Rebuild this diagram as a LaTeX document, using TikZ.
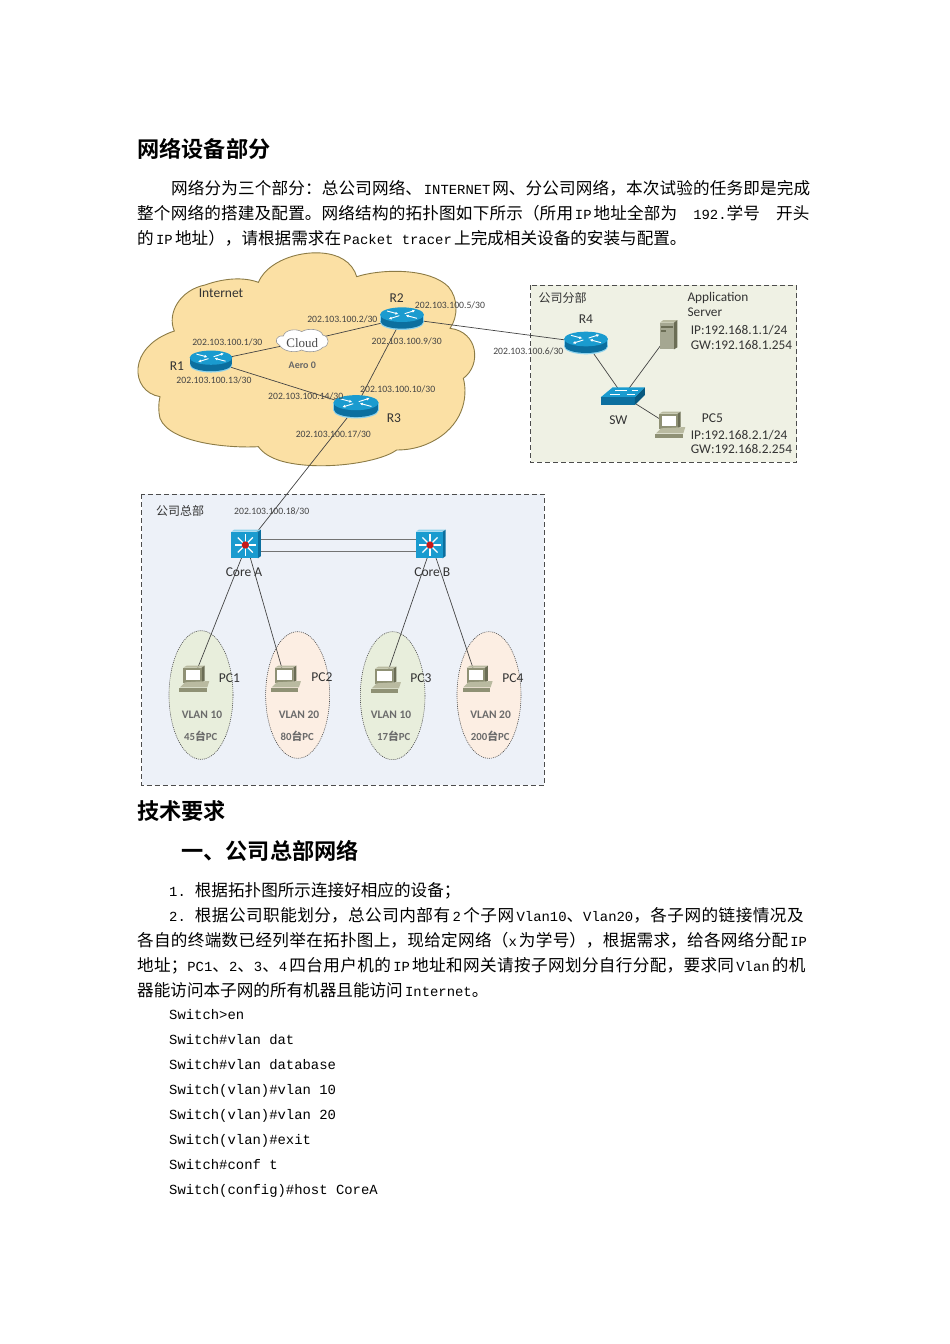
\documentclass[tikz,border=0pt]{standalone}
\usepackage{fontspec}
\usetikzlibrary{arrows.meta}
\setmainfont{Carlito}
\newfontfamily\cjk{Noto Sans CJK SC}
\newfontfamily\cjkb{Noto Sans CJK SC Bold}
\newfontfamily\lat{Liberation Mono}
\newfontfamily\serifl{Liberation Serif}
\newcommand\fs[1]{\fontsize{#1}{#1}\selectfont}
\newcommand\C[1]{{\cjk\fs{16.6}\relax #1}}
\newcommand\G{\hskip 1.5pt plus 2pt\relax}
\newcommand\J[1]{\parfillskip=0pt\tolerance=10000\hbadness=10000\XeTeXlinebreaklocale "zh"\XeTeXlinebreakskip=0pt plus 1pt\relax\lat\fontsize{13.9}{16}\selectfont #1\par}
\newcommand\Nat[1]{\lat\fontsize{13.9}{16}\selectfont #1}
\definecolor{cloudfill}{HTML}{FBE0A4}
\definecolor{cloudline}{HTML}{8C7B45}
\definecolor{hqfill}{HTML}{EDF1F8}
\definecolor{brfill}{HTML}{EFF1E4}
\definecolor{vgreen}{HTML}{E8EEDC}
\definecolor{vorange}{HTML}{FCEEE3}
\definecolor{icblue}{HTML}{1A9BCF}
\definecolor{icdark}{HTML}{0C6F9F}
\definecolor{icedge}{HTML}{8ED2EC}
\definecolor{lab}{HTML}{444444}
\definecolor{pclight}{HTML}{B9BAA0}
\definecolor{pcmid}{HTML}{8F9175}
\definecolor{pcdark}{HTML}{6B6D55}
\tikzset{
 hub/.style={circle,inner sep=0pt,minimum size=14pt},
 link/.style={draw=lab,line width=.7pt},
 dbl/.style={draw=black!55,line width=1pt},
 dashbox/.style={draw=black!70,line width=.9pt,dash pattern=on 5pt off 3pt},
 vlan/.style={draw=black!70,line width=.6pt,dash pattern=on 1pt off 1pt},
 ip/.style={inner sep=0pt,text=lab,font=\fs{9.7}},
 lname/.style={inner sep=0pt,text=black!80,font=\fs{13.5}},
 lleft/.style={inner sep=0pt,text=black!80,font=\fs{13.3},anchor=west},
 vl/.style={inner sep=0pt,text=black!58,font=\fs{11.5}\bfseries},
 vn/.style={inner sep=0pt,text=black!58,font=\fs{10.8}\bfseries},
 bodytext/.style={anchor=base west,inner sep=0pt},
 headtext/.style={anchor=base west,inner sep=0pt,font=\cjkb\fs{22.2}},
 router/.pic={
  \fill[icedge] (-66,0) rectangle (66,23);
  \fill[icedge] (0,23) ellipse [x radius=66,y radius=23];
  \fill[icdark] (-64,0) rectangle (64,21);
  \fill[icdark] (0,21) ellipse [x radius=64,y radius=21];
  \fill[icblue] (0,0) ellipse [x radius=66,y radius=22];
  \draw[white,line width=.9pt,-{Latex[length=3pt,width=3pt]}] (-45,-11) -- (-11,-2);
  \draw[white,line width=.9pt,-{Latex[length=3pt,width=3pt]}] (45,11) -- (11,2);
  \draw[white,line width=.9pt,-{Latex[length=3pt,width=3pt]}] (-8,3) -- (-40,13);
  \draw[white,line width=.9pt,-{Latex[length=3pt,width=3pt]}] (8,-3) -- (40,-13);
 },
 coresw/.pic={
  \fill[icedge] (-42,-40) -- (-34,-46) -- (47,-46) -- (38,-40) -- cycle;
  \fill[icdark] (38,-40) -- (47,-46) -- (47,33) -- (38,40) -- cycle;
  \fill[icblue] (-42,-40) rectangle (38,40);
  \foreach \a in {0,45,...,315}
   \draw[white,line width=1.2pt] (0,0) -- (\a:32);
  \fill[red!75!black!90!white] (0,0) circle (11);
 },
 wgsw/.pic={
  \fill[icblue] (-68,4) -- (-32,-26) -- (65,-26) -- (35,4) -- cycle;
  \fill[icdark] (-68,4) rectangle (35,27);
  \fill[icdark!80!black] (35,4) -- (65,-26) -- (65,-3) -- (35,27) -- cycle;
  \draw[white,line width=.8pt] (-40,-5) -- (-10,-5) (-25,-16) -- (10,-16) (10,-5) -- (35,-5) (25,-16) -- (45,-16);
 },
 pcicon/.pic={
  \fill[pclight] (-30,-34) -- (-20,-40) -- (34,-40) -- (25,-34) -- cycle;
  \fill[pcdark] (25,-34) -- (34,-40) -- (34,5) -- (25,11) -- cycle;
  \fill[pcmid] (-30,-34) rectangle (25,11);
  \fill[white] (-23,-26) rectangle (20,4);
  \fill[pclight] (-40,25) -- (-25,10) -- (48,6) -- (42,25) -- cycle;
  \fill[pcmid] (-42,28) rectangle (40,38);
 },
 server/.pic={
  \fill[pclight] (-25,-37) -- (-15,-45) -- (27,-45) -- (17,-37) -- cycle;
  \fill[pcdark] (17,-37) -- (27,-45) -- (27,37) -- (17,43) -- cycle;
  \fill[pcmid!80!white] (-25,-37) rectangle (17,43);
  \fill[pcdark] (-22,-26) rectangle (14,-22);
  \fill[pcdark] (-22,-14) rectangle (-8,-10);
 }
}
\begin{document}
\begin{tikzpicture}[x=1pt,y=-1pt]
\useasboundingbox (0,0) rectangle (950,1344);
\fill[white] (0,0) rectangle (950,1344);

% ---------- document text
\node[headtext] (h1) at (137,157) {网络设备部分};
\node[bodytext,text width=642pt] (t1) at (171,194) {\J{\C{网络分为三个部分：总公司网络、}\G INTERNET\G\C{网、分公司网络，本次试验的任务即是完成}}};
\node[bodytext,text width=676pt] (t2) at (137,219) {\J{\C{整个网络的搭建及配置。网络结构的拓扑图如下所示（所用}\G IP\G\C{地址全部为}\hskip 16pt 192.\C{学号}\hskip 16pt\C{开头}}};
\node[bodytext] (t3) at (137,244) {\Nat{\C{的}\,IP\,\C{地址），请根据需求在}\,Packet tracer\,\C{上完成相关设备的安装与配置。}}};
\node[headtext] (h2) at (137,819) {技术要求};
\node[headtext] (h3) at (181,859) {一、公司总部网络};
\node[bodytext] (t4) at (169,896) {\Nat{1.\hskip 9pt\C{根据拓扑图所示连接好相应的设备；}}};
\node[bodytext,text width=644pt] (t5) at (169,921) {\J{2.\hskip 9pt\C{根据公司职能划分，总公司内部有}\G 2\G\C{个子网}\G Vlan10\C{、}Vlan20\C{，各子网的链接情况及}}};
\node[bodytext,text width=676pt] (t6) at (137,946) {\J{\C{各自的终端数已经列举在拓扑图上，现给定网络（}x\G\C{为学号），根据需求，给各网络分配}\G IP}};
\node[bodytext,text width=676pt] (t7) at (137,971) {\J{\C{地址；}PC1\C{、}2\C{、}3\C{、}4\G\C{四台用户机的}\G IP\G\C{地址和网关请按子网划分自行分配，要求同}\G Vlan\G\C{的机}}};
\node[bodytext] (t8) at (137,996) {\Nat{\C{器能访问本子网的所有机器且能访问}\,Internet\C{。}}};
\node[bodytext] (c1) at (169,1019) {\Nat{Switch>en}};
\node[bodytext] (c2) at (169,1044) {\Nat{Switch\#vlan dat}};
\node[bodytext] (c3) at (169,1069) {\Nat{Switch\#vlan database}};
\node[bodytext] (c4) at (169,1094) {\Nat{Switch(vlan)\#vlan 10}};
\node[bodytext] (c5) at (169,1119) {\Nat{Switch(vlan)\#vlan 20}};
\node[bodytext] (c6) at (169,1144) {\Nat{Switch(vlan)\#exit}};
\node[bodytext] (c7) at (169,1169) {\Nat{Switch\#conf t}};
\node[bodytext] (c8) at (169,1194) {\Nat{Switch(config)\#host CoreA}};

% ---------- backgrounds
\begin{scope}[shift={(130,250)},scale=1/3]
 \path[fill=cloudfill,draw=cloudline,line width=.9pt]
  (133,243) .. controls (110,190) and (150,120) .. (225,105)
  .. controls (280,85) and (340,80) .. (385,97)
  .. controls (420,15) and (570,-15) .. (640,28)
  .. controls (660,40) and (675,60) .. (680,80)
  .. controls (760,55) and (900,55) .. (955,110)
  .. controls (985,145) and (985,200) .. (960,235)
  .. controls (1045,245) and (1055,345) .. (1000,385)
  .. controls (1015,440) and (1000,530) .. (900,578)
  .. controls (865,595) and (830,600) .. (800,600)
  .. controls (745,640) and (560,665) .. (450,632)
  .. controls (420,622) and (400,610) .. (385,590)
  .. controls (300,595) and (120,580) .. (90,505)
  .. controls (85,485) and (85,460) .. (90,440)
  .. controls (0,425) and (-10,290) .. (133,243) -- cycle;
\end{scope}
\begin{scope}[shift={(480,270)},scale=1/3]
 \path[dashbox,fill=brfill] (152,45) rectangle (950,577);
\end{scope}
\begin{scope}[shift={(130,480)},scale=1/3]
 \path[dashbox,fill=hqfill] (35,42) rectangle (1243,915);
 \path[vlan,fill=vgreen] (213,645) ellipse [x radius=96,y radius=193];
 \path[vlan,fill=vorange] (503,645) ellipse [x radius=96,y radius=190];
 \path[vlan,fill=vgreen] (788,647) ellipse [x radius=97,y radius=192];
 \path[vlan,fill=vorange] (1077,645) ellipse [x radius=96,y radius=190];
\end{scope}

% ---------- anchor nodes
\begin{scope}[shift={(130,250)},scale=1/3]
 \node[hub] (R1) at (243,333) {};
 \node[hub] (R2) at (816,205) {};
 \node[hub] (R3) at (678,470) {};
 \node[hub] (CL) at (517,275) {};
\end{scope}
\begin{scope}[shift={(480,270)},scale=1/3]
 \node[hub] (R4) at (318,218) {};
 \node[hub] (SW) at (430,378) {};
 \node[hub] (SV) at (565,195) {};
 \node[hub] (PC5) at (568,465) {};
\end{scope}
\begin{scope}[shift={(130,480)},scale=1/3]
 \node[hub,minimum size=24pt] (CA) at (350,195) {};
 \node[hub,minimum size=24pt] (CB) at (905,195) {};
 \node[hub] (PC1) at (190,597) {};
 \node[hub] (PC2) at (465,597) {};
 \node[hub] (PC3) at (765,600) {};
 \node[hub] (PC4) at (1040,597) {};
\end{scope}

% ---------- connectors
\draw[link] (R1) -- (CL);
\draw[link] (CL) -- (R2);
\draw[link] (R1) -- (R3);
\draw[link] (R2) -- (R3);
\draw[link] (R2) -- (R4);
\draw[link] (R3) -- (CA);
\draw[link] (R4) -- (SW);
\draw[link] (SW) -- (SV);
\draw[link] (SW) -- (PC5);
\draw[dbl] ([yshift=6pt]CA.east) -- ([yshift=6pt]CB.west);
\draw[dbl] ([yshift=-6pt]CA.east) -- ([yshift=-6pt]CB.west);
\draw[link] (CA) -- (PC1);
\draw[link] (CA) -- (PC2);
\draw[link] (CB) -- (PC3);
\draw[link] (CB) -- (PC4);

% ---------- icons and labels: upper cloud
\begin{scope}[shift={(130,250)},scale=1/3]
 \pic[scale=.323] at (243,323) {router};
 \pic[scale=.333] at (816,194) {router};
 \pic[scale=.343] at (678,458) {router};
 \path[fill=white,draw=black!40,line width=.6pt]
  (448,285) .. controls (430,275) and (440,255) .. (460,258)
  .. controls (465,238) and (500,235) .. (515,245)
  .. controls (535,232) and (575,238) .. (578,255)
  .. controls (600,258) and (600,290) .. (578,292)
  .. controls (565,308) and (530,308) .. (515,300)
  .. controls (495,310) and (460,305) .. (448,285) -- cycle;
 \node[inner sep=0pt,text=black!70,font=\serifl\fs{13}] (clabel) at (517,278) {Cloud};
 \node[inner sep=0pt,text=black!60,font=\fs{10}\bfseries] (aero) at (517,347) {Aero 0};
 \node[lname] (lnet) at (273,130) {Internet};
 \node[lname] (l1) at (141,347) {R1};
 \node[lname] (l2) at (800,143) {R2};
 \node[lname] (l3) at (792,505) {R3};
 \node[ip] (i5) at (960,165) {202.103.100.5/30};
 \node[ip] (i2) at (637,208) {202.103.100.2/30};
 \node[ip] (i1) at (292,276) {202.103.100.1/30};
 \node[ip] (i9) at (830,275) {202.103.100.9/30};
 \node[ip] (i13) at (252,391) {202.103.100.13/30};
 \node[ip] (i14) at (527,438) {202.103.100.14/30};
 \node[ip] (i10) at (803,417) {202.103.100.10/30};
 \node[ip] (i17) at (610,552) {202.103.100.17/30};
\end{scope}

% ---------- branch office
\begin{scope}[shift={(480,270)},scale=1/3]
 \pic[scale=.333] at (318,207) {router};
 \pic[scale=.333] at (430,378) {wgsw};
 \pic[scale=.333] at (565,195) {server};
 \pic[scale=.333] at (568,465) {pcicon};
 \node[ip] (i6) at (145,243) {202.103.100.6/30};
 \node[inner sep=0pt,text=black!80,font=\cjk\fs{12}] (lbr) at (248,85) {公司分部};
 \node[lname] (l4) at (318,148) {R4};
 \node[lname] (lsw) at (415,450) {SW};
 \node[lleft] (la) at (622,83) {Application};
 \node[lleft] (ls) at (622,127) {Server};
 \node[lleft] (l5a) at (632,180) {IP:192.168.1.1/24};
 \node[lleft] (l5b) at (632,224) {GW:192.168.1.254};
 \node[lname] (l5) at (697,445) {PC5};
 \node[lleft] (l5c) at (632,495) {IP:192.168.2.1/24};
 \node[lleft] (l5d) at (632,538) {GW:192.168.2.254};
\end{scope}

% ---------- headquarters
\begin{scope}[shift={(130,480)},scale=1/3]
 \pic[scale=.333] at (346,195) {coresw};
 \pic[scale=.333] at (900,195) {coresw};
 \pic[scale=.333] at (190,597) {pcicon};
 \pic[scale=.333] at (465,597) {pcicon};
 \pic[scale=.333] at (765,600) {pcicon};
 \pic[scale=.333] at (1040,597) {pcicon};
 \node[inner sep=0pt,text=black!80,font=\cjk\fs{12}] (lhq) at (150,93) {公司总部};
 \node[ip] (i18) at (425,93) {202.103.100.18/30};
 \node[lname] (lca) at (342,277) {Core A};
 \node[lname] (lcb) at (907,277) {Core B};
 \node[lname] (lp1) at (298,595) {PC1};
 \node[lname] (lp2) at (576,591) {PC2};
 \node[lname] (lp3) at (873,593) {PC3};
 \node[lname] (lp4) at (1149,593) {PC4};
 \node[vl] (v1) at (216,703) {VLAN 10};
 \node[vl] (v2) at (507,703) {VLAN 20};
 \node[vl] (v3) at (783,705) {VLAN 10};
 \node[vl] (v4) at (1082,705) {VLAN 20};
 \node[vn] (n1) at (212,768) {45{\cjkb 台}PC};
 \node[vn] (n2) at (502,768) {80{\cjkb 台}PC};
 \node[vn] (n3) at (791,768) {17{\cjkb 台}PC};
 \node[vn] (n4) at (1081,768) {200{\cjkb 台}PC};
\end{scope}
\end{tikzpicture}
\end{document}
